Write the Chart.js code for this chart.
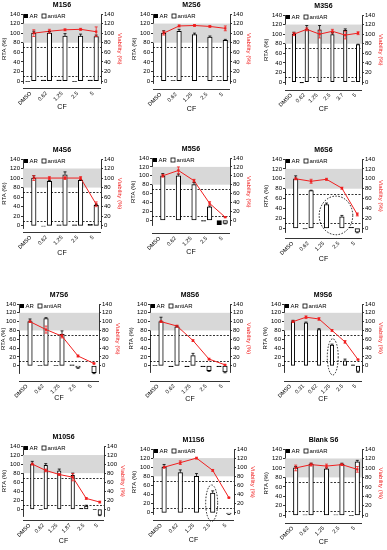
<!DOCTYPE html>
<html><head><meta charset="utf-8">
<script src="https://cdn.jsdelivr.net/npm/chart.js@4.4.1/dist/chart.umd.min.js"></script>
<style>
html,body{margin:0;padding:0;background:#fff;width:387px;height:550px;overflow:hidden;position:relative}
canvas{position:absolute}
</style></head><body>
<script>
const titles = ['M1S6','M2S6','M3S6','M4S6','M5S6','M6S6','M7S6','M8S6','M9S6','M10S6','M11S6','Blank S6'];
const categories = [
 ['DMSO','0.62','1.25','2.5','5'],
 ['DMSO','0.62','1.25','2.5','5'],
 ['DMSO','0.62','1.25','2.5','3.7','5'],
 ['DMSO','0.62','1.25','2.5','5'],
 ['DMSO','0.62','1.25','2.5','5'],
 ['DMSO','0.62','1.25','2.5','5'],
 ['DMSO','0.62','1.25','2.5','5'],
 ['DMSO','0.62','1.25','2.5','5'],
 ['DMSO','0.31','0.62','1.25','2.5','5'],
 ['DMSO','0.62','1.25','1.87','2.5','5'],
 ['DMSO','0.62','1.25','2.5','5'],
 ['DMSO','0.62','1.25','2.5','5']
];
const arValues = [
 [-1,2,2,-1,2],
 [0,1,0,0,1],
 [0,-2,0,0,0,1],
 [0,-1,2,2,3],
 [0,0,0,-2,-10],
 [0,-1,0,0,2],
 [0,1,1,2,0],
 [1,-2,-2,-2,-2],
 [0,0,0,0,0,2],
 [0,-1,0,0,2,-1],
 [0,0,0,0,0],
 [0,1,0,1,-1]
];
const antiARValues = [
 [100,100,94,94,93],
 [100,104,97,92,85],
 [100,110,109,99,108,78],
 [100,93,107,95,43],
 [100,100,80,30,-7],
 [100,76,48,23,-8],
 [100,107,71,-4,-16],
 [100,88,23,-11,-14],
 [100,97,82,47,11,-13],
 [100,97,85,75,7,-13],
 [100,88,80,43,-2],
 [100,108,98,108,113]
];
const viabilityValues = [
 [100,104,107,108,103],
 [100,115,116,114,110],
 [100,110,100,106,98,102],
 [100,100,100,100,45],
 [100,112,89,38,7],
 [100,95,99,81,28],
 [100,82,67,22,5],
 [100,90,57,15,2],
 [100,110,106,80,54,14],
 [100,86,77,71,24,16],
 [100,110,120,93,33],
 [100,107,104,107,97]
];
const antiARErr = [
 [4,3,5,4,3],
 [5,4,3,2,2],
 [4,8,9,4,3,1],
 [5,2,6,2,2],
 [5,4,5,2,1],
 [6,1,3,3,1],
 [6,2,8,2,2],
 [10,2,5,2,2],
 [3,2,2,2,4,2],
 [6,4,4,5,2,1],
 [6,6,6,5,2],
 [3,2,2,2,3]
];
const viabilityErr = [
 [7,4,2,2,10],
 [4,2,2,2,5],
 [3,3,8,4,8,3],
 [5,3,3,3,5],
 [3,8,3,4,1],
 [2,4,2,2,3],
 [2,8,4,2,1],
 [2,2,2,2,1],
 [2,3,3,2,3,1],
 [2,3,2,8,2,2],
 [2,4,2,2,1],
 [6,3,4,2,6]
];

// panel geometry: plot left, plot right, y(140), y(0), axis min, x-line offset, CF label y
const layout = [
 [22.7,101,14.3,81,-5,7.3,106.7],
 [153,229.7,14.3,81,-5,8.3,108.3],
 [285.3,362,15.3,82,-5,8,108.3],
 [22.7,101,159,225.7,-5,6.5,252.3],
 [152,229.7,157.7,220.3,-12,13,251.7],
 [285.3,362,159,228.3,-9,10,259],
 [19.3,99,303.7,365.7,-18,15.3,397.7],
 [149.7,229.7,303.7,365.7,-16,15.3,398.3],
 [284.3,362,303.7,365.7,-15,15.3,399],
 [22.7,104.3,446,509.3,-15,11,540.3],
 [153,233.7,449.3,512.7,-5,7.6,539.7],
 [285.3,362,448.7,515.3,-5,7.7,542]
];
const ellipses = [null,null,null,null,null,
 {cx:2.81,cy:26,rx:1.09,ry:39},
 null,null,
 {cx:3.25,cy:20,rx:0.42,ry:41},
 null,
 {cx:3.12,cy:21,rx:0.37,ry:40},
 null];

const FONT = "'Liberation Sans', Arial, sans-serif";
const RED = '#f02020';
const info = [];

const decor = {
  id:'decor',
  afterDatasetsUpdate(chart){
    const k = +chart.canvas.dataset.idx;
    const dx = info[k].shift;
    chart.getDatasetMeta(0).data.forEach(p => { p.x += dx; });
  },
  beforeDatasetsDraw(chart){
    const {ctx, chartArea:a, scales:{y}} = chart;
    ctx.save();
    ctx.fillStyle = '#d8d8d8';
    const t = y.getPixelForValue(120), b = y.getPixelForValue(80);
    ctx.fillRect(a.left, t, a.right - a.left, b - t);
    ctx.strokeStyle = '#000'; ctx.lineWidth = 0.8; ctx.setLineDash([2,1.5]);
    [70,10].forEach(v => {
      const py = Math.round(y.getPixelForValue(v)) + 0.5;
      ctx.beginPath(); ctx.moveTo(a.left, py); ctx.lineTo(a.right, py); ctx.stroke();
    });
    ctx.restore();
  },
  afterDatasetsDraw(chart){
    const k = +chart.canvas.dataset.idx;
    const {ctx, scales:{y, y2}} = chart;
    ctx.save();
    ctx.lineWidth = 0.8;
    const mb = chart.getDatasetMeta(2);
    ctx.strokeStyle = '#000';
    antiARValues[k].forEach((v,i) => {
      const e = antiARErr[k][i]; if (!e) return;
      const x = mb.data[i].x;
      const p0 = y.getPixelForValue(v), p1 = y.getPixelForValue(v + (v >= 0 ? e : -e));
      ctx.beginPath(); ctx.moveTo(x, p0); ctx.lineTo(x, p1);
      ctx.moveTo(x - 1.5, p1); ctx.lineTo(x + 1.5, p1); ctx.stroke();
    });
    const ml = chart.getDatasetMeta(0);
    ctx.strokeStyle = RED;
    viabilityValues[k].forEach((v,i) => {
      const e = viabilityErr[k][i]; if (!e) return;
      const x = ml.data[i].x;
      const p0 = y2.getPixelForValue(v - e), p1 = y2.getPixelForValue(v + e);
      ctx.beginPath(); ctx.moveTo(x, p0); ctx.lineTo(x, p1);
      ctx.moveTo(x - 1.5, p0); ctx.lineTo(x + 1.5, p0);
      ctx.moveTo(x - 1.5, p1); ctx.lineTo(x + 1.5, p1); ctx.stroke();
    });
    ctx.restore();
  },
  afterDraw(chart){
    const k = +chart.canvas.dataset.idx;
    const I = info[k];
    const {ctx, chartArea:a, scales:{y}} = chart;
    ctx.save();
    ctx.fillStyle = '#000';
    ctx.font = 'bold 7px ' + FONT;
    ctx.textAlign = 'center'; ctx.textBaseline = 'middle';
    ctx.fillText(titles[k], (a.left + a.right) / 2, a.top - 9);
    ctx.font = '6px ' + FONT; ctx.textAlign = 'left';
    const ly = a.top + 2;
    ctx.fillRect(a.left + 1, ly - 2, 4, 4);
    ctx.fillText('AR', a.left + 6.5, ly + 0.3);
    ctx.fillStyle = '#fff'; ctx.strokeStyle = '#000'; ctx.lineWidth = 0.8;
    ctx.fillRect(a.left + 19, ly - 2, 4, 4); ctx.strokeRect(a.left + 19, ly - 2, 4, 4);
    ctx.fillStyle = '#000';
    ctx.fillText('antiAR', a.left + 24.5, ly + 0.3);
    const xl = Math.round(I.xLineY) + 0.5;
    ctx.beginPath(); ctx.moveTo(a.left, xl); ctx.lineTo(a.right, xl); ctx.stroke();
    const el = ellipses[k];
    if (el) {
      const w = (a.right - a.left) / categories[k].length;
      const cx = a.left + (el.cx + 0.5) * w;
      const cy = y.getPixelForValue(el.cy);
      const ry = Math.abs(y.getPixelForValue(el.cy + el.ry) - cy);
      ctx.setLineDash([1.5,1.5]); ctx.lineWidth = 0.9;
      ctx.beginPath(); ctx.ellipse(cx, cy, el.rx * w, ry, 0, 0, Math.PI * 2); ctx.stroke();
    }
    ctx.restore();
  }
};

layout.forEach((L, k) => {
  const [pl, pr, y140, y0, ymin, xOff, cfY] = L;
  const left = Math.round(pl), right = Math.round(pr), top = Math.round(y140);
  const lw = Math.min(22, left);
  const cLeft = left - lw, cTop = top - 16, cW = right - left + lw + 22;
  const chartH = (y0 - top) * (140 - ymin) / 140;
  const chartBottom = top + chartH;
  const cH = Math.round(cfY + 4.2 - cTop);
  const xH = (cTop + cH) - chartBottom;
  const xLineY = y0 + xOff;
  const n = categories[k].length;
  const thick = n === 6 ? 5 : 6;
  info[k] = {xLineY: xLineY - cTop, shift: thick / 2};
  const pad = (xLineY - chartBottom) + 2;

  const cv = document.createElement('canvas');
  cv.width = cW; cv.height = cH;
  cv.style.left = cLeft + 'px'; cv.style.top = cTop + 'px';
  cv.style.width = cW + 'px'; cv.style.height = cH + 'px';
  cv.dataset.idx = k;
  document.body.appendChild(cv);

  const yAxis = (pos, text, col, w) => ({
    type:'linear', position:pos, min:ymin, max:140,
    ticks:{stepSize:20, includeBounds:false, autoSkip:false, font:{family:FONT, size:6}, color:'#000', padding:1,
      callback:v => (v % 20 === 0 ? v : '')},
    grid:{drawOnChartArea:false, drawTicks:true, tickLength:2, color:'#000', lineWidth:0.8},
    border:{display:true, color:'#000', width:0.8},
    title:{display:true, text:text, font:{family:FONT, size:6}, color:col, padding:0},
    afterFit(s){ s.width = w; }
  });

  const barCommon = {borderSkipped:false, xAxisID:'x', yAxisID:'y', borderWidth:1,
    barThickness:thick, maxBarThickness:thick - 1.5};

  new Chart(cv, {
    type:'bar',
    data:{
      labels: categories[k],
      datasets:[
        {type:'line', label:'Viability', data: viabilityValues[k],
         xAxisID:'x', yAxisID:'y2', borderColor:RED, backgroundColor:RED, borderWidth:1,
         pointStyle:'rect', pointRadius:1.6, pointBorderWidth:0, order:0},
        Object.assign({label:'AR', data: arValues[k], backgroundColor:'#000', borderColor:'#000', order:1}, barCommon),
        Object.assign({label:'antiAR', data: antiARValues[k], backgroundColor:'#fff', borderColor:'#000', order:2}, barCommon)
      ]
    },
    options:{
      responsive:false, animation:false, devicePixelRatio:1, events:[],
      layout:{padding:{top:16, left:0, right:0, bottom:0}},
      plugins:{legend:{display:false}, tooltip:{enabled:false}, title:{display:false}},
      scales:{
        x:{type:'category', offset:true, grid:{display:false, drawTicks:false}, border:{display:false},
           ticks:{font:{family:FONT, size:5.5}, color:'#000', maxRotation:45, minRotation:45, padding:pad, autoSkip:false},
           title:{display:true, text:'CF', font:{family:FONT, size:7}, color:'#000', padding:0},
           afterFit(s){ s.height = xH; }},
        y: yAxis('left', 'RTA (%)', '#000', lw),
        y2: yAxis('right', 'Viability (%)', RED, 22)
      }
    },
    plugins:[decor]
  });
});
</script>
</body></html>
